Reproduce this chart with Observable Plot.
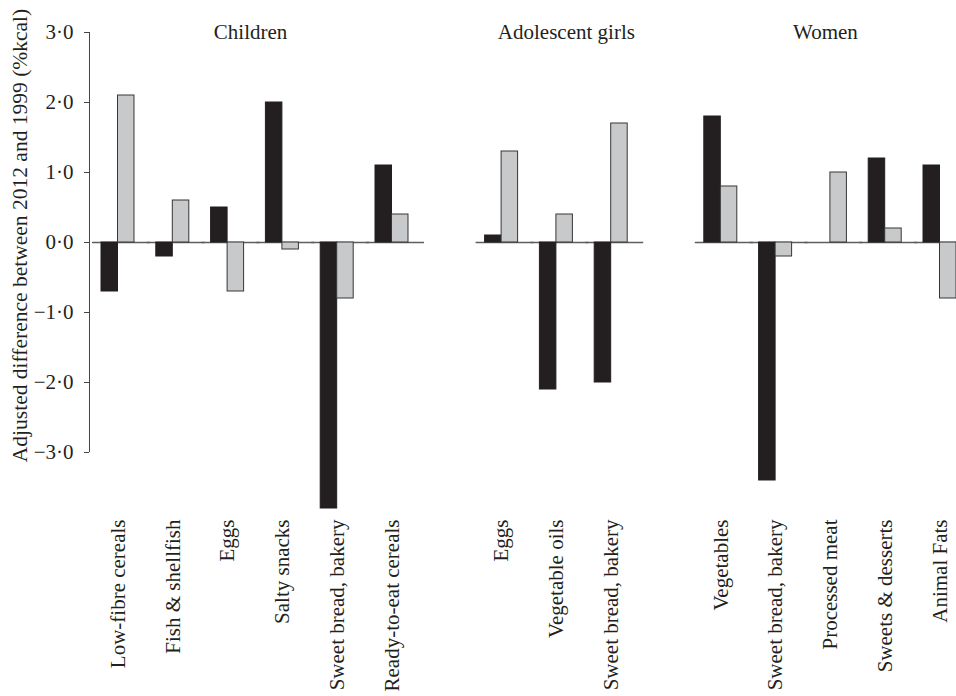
<!DOCTYPE html>
<html><head><meta charset="utf-8">
<script src="https://cdn.jsdelivr.net/npm/d3@7"></script>
<script src="https://cdn.jsdelivr.net/npm/@observablehq/plot@0.6"></script>
<style>
body{margin:0;background:#fff;}
#chart svg, #chart svg text{font-family:"Liberation Serif","Times New Roman","DejaVu Serif",serif !important;}
</style></head><body><div id="chart"></div>
<script>
const groupNames = ["Children", "Adolescent girls", "Women"];
const childrenFoods = ["Low-fibre cereals", "Fish & shellfish", "Eggs", "Salty snacks", "Sweet bread, bakery", "Ready-to-eat cereals"];
const childrenBlack = [-0.7, -0.2, 0.5, 2.0, -3.8, 1.1];
const childrenGrey = [2.1, 0.6, -0.7, -0.1, -0.8, 0.4];
const girlsFoods = ["Eggs", "Vegetable oils", "Sweet bread, bakery"];
const girlsBlack = [0.1, -2.1, -2.0];
const girlsGrey = [1.3, 0.4, 1.7];
const womenFoods = ["Vegetables", "Sweet bread, bakery", "Processed meat", "Sweets & desserts", "Animal Fats"];
const womenBlack = [1.8, -3.4, 0, 1.2, 1.1];
const womenGrey = [0.8, -0.2, 1.0, 0.2, -0.8];
const yTicks = [-3, -2, -1, 0, 1, 2, 3];
const yMin = -3.8;
const yLabel = "Adjusted difference between 2012 and 1999 (%kcal)";

const groupFoods = [childrenFoods, girlsFoods, womenFoods];
const groupBlack = [childrenBlack, girlsBlack, womenBlack];
const groupGrey = [childrenGrey, girlsGrey, womenGrey];
const titleDx = [23, 10, -5];

const rows = [];
const domain = [];
groupNames.forEach((g, gi) => {
  if (gi > 0) domain.push("gap" + gi);
  groupFoods[gi].forEach((f, i) => {
    const key = g + "|" + f;
    domain.push(key);
    rows.push({key, group: g, food: f, black: groupBlack[gi][i], grey: groupGrey[gi][i]});
  });
});
const labelOf = k => (k.startsWith("gap") ? "" : k.split("|")[1]);
const fmt = d => (d < 0 ? "\u2212" : "") + Math.abs(d).toFixed(1).replace(".", "\u00b7");
const FS = 21;
const FF = '"Liberation Serif","Times New Roman","DejaVu Serif",serif';
const ink = "#231f20";

const titleMarks = groupNames.map((g, gi) => {
  const foods = groupFoods[gi];
  const mid = foods[Math.floor((foods.length - 1) / 2)];
  return Plot.text([g], {x: [g + "|" + mid], y: [d3.max(yTicks)], text: d => d, dx: titleDx[gi], fontSize: FS, fontFamily: FF, fill: ink});
});

const chart = Plot.plot({
  width: 956,
  height: 696,
  marginTop: 32,
  marginBottom: 188,
  marginLeft: 89,
  marginRight: 0,
  style: {fontFamily: FF, fontSize: FS + "px", color: ink, background: "#fff"},
  x: {domain, paddingInner: 0.398, paddingOuter: 0.1095, align: 1, round: false},
  y: {domain: [yMin, d3.max(yTicks)]},
  marks: [
    Plot.tickY(rows, {x: "key", y: () => 0, stroke: "#5e5e5e", strokeWidth: 1.5, insetLeft: -9, insetRight: -16}),
    Plot.barY(rows, {x: "key", y: "black", fill: ink, stroke: ink, strokeWidth: 1, insetRight: 16.5}),
    Plot.barY(rows, {x: "key", y: "grey", fill: "#c8c9cb", stroke: "#363636", strokeWidth: 1, insetLeft: 16.5}),
    Plot.ruleX([domain[0]], {y1: d3.min(yTicks), y2: d3.max(yTicks), dx: -28.5, stroke: "#444", strokeWidth: 1}),
    Plot.axisY({ticks: yTicks, tickSize: 5, tickPadding: 11, tickFormat: fmt, label: null, fontSize: FS, fontFamily: FF, fill: ink, stroke: "#444"}),
    Plot.axisX({tickRotate: -90, tickSize: 0, tickPadding: 11, tickFormat: labelOf, label: null, fontSize: FS, fontFamily: FF, fill: ink}),
    Plot.text([yLabel], {frameAnchor: "left", y: [d3.mean(yTicks)], text: d => d, rotate: -90, textAnchor: "middle", dx: -69, dy: -7, fontSize: 21.5, fontFamily: FF, fill: ink}),
    ...titleMarks
  ]
});
document.getElementById("chart").appendChild(chart);
</script>
</body></html>
